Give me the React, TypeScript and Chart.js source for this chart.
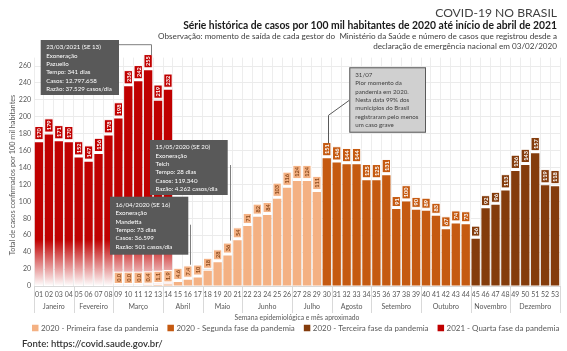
import React, { useEffect, useRef } from 'react';
import { Chart, registerables } from 'chart.js';

Chart.register(...registerables);

const FONT = 'Lato, "Open Sans", sans-serif';

const weekLabels = ['01','02','03','04','05','06','07','08','09','10','11','12','13','14','15','16','17','18','19','20','21','22','23','24','25','26','27','28','29','30','31','32','33','34','35','36','37','38','39','40','41','42','43','44','45','46','47','48','49','50','51','52','53'];
const monthNames = ['Janeiro','Fevereiro','Março','Abril','Maio','Junho','Julho','Agosto','Setembro','Outubro','Novembro','Dezembro'];
const monthStartWeeks = ['01','05','09','14','18','22','27','31','35','40','45','49'];

// 2020 - Primeira fase (SE 09 a 29)
const weeksFase1 = ['09','10','11','12','13','14','15','16','17','18','19','20','21','22','23','24','25','26','27','28','29'];
const casosFase1 = [0.0, 0.0, 0.0, 0.4, 1.1, 1.9, 4.6, 7.4, 10, 18, 28, 36, 54, 71, 82, 84, 103, 116, 124, 124, 111];
// 2020 - Segunda fase (SE 30 a 44)
const weeksFase2 = ['30','31','32','33','34','35','36','37','38','39','40','41','42','43','44'];
const casosFase2 = [151, 146, 144, 144, 125, 125, 131, 91, 100, 90, 89, 83, 67, 74, 73];
// 2020 - Terceira fase (SE 45 a 53)
const weeksFase3 = ['45','46','47','48','49','50','51','52','53'];
const casosFase3 = [56, 92, 96, 113, 136, 143, 157, 119, 118];
// 2021 - Quarta fase (SE 01 a 14)
const weeks2021 = ['01','02','03','04','05','06','07','08','09','10','11','12','13','14'];
const casos2021 = [170, 179, 171, 170, 152, 147, 156, 178, 198, 236, 242, 255, 219, 232];

const seriesNames = ['2020 - Primeira fase da pandemia', '2020 - Segunda fase da pandemia', '2020 - Terceira fase da pandemia', '2021 - Quarta fase da pandemia'];
const seriesColors = ['#F4B183', '#C55A11', '#843C0C', '#C00000'];
const labelTextColors = ['#8A4A1E', '#FFFFFF', '#FFFFFF', '#FFFFFF'];

const annotations = [
  { lines: ['23/03/2021 (SE 13)', 'Exoneração', 'Pazuello', 'Tempo: 341 dias', 'Casos: 12.797.658', 'Razão: 37.529 casos/dia'], box: [40.7, 40, 78.3, 55], dataset: 3, week: '12' },
  { lines: ['15/05/2020 (SE 20)', 'Exoneração', 'Teich', 'Tempo: 28 dias', 'Casos: 119.340', 'Razão: 4.262 casos/dia'], box: [150, 140, 77.7, 55], dataset: 0, week: '20' },
  { lines: ['16/04/2020 (SE 16)', 'Exoneração', 'Mandetta', 'Tempo: 73 dias', 'Casos: 36.599', 'Razão: 501 casos/dia'], box: [110, 196.7, 78.3, 58], dataset: 0, week: '16' },
];
const noteLines = ['31/07', 'Pior momento da', 'pandemia em 2020.', 'Nesta data 99% dos', 'municípios do Brasil', 'registraram pelo menos', 'um caso grave'];

function fitSize(ctx: CanvasRenderingContext2D, text: string, width: number, weight: string) {
  ctx.font = `${weight} 10px ${FONT}`;
  return (10 * width) / ctx.measureText(text).width;
}

function valueOf(di: number, week: string) {
  const weeks = [weeksFase1, weeksFase2, weeksFase3, weeks2021][di];
  const vals = [casosFase1, casosFase2, casosFase3, casos2021][di];
  return vals[weeks.indexOf(week)];
}

const labelPlugin = {
  id: 'barLabels',
  afterDatasetsDraw(chart: any) {
    const { ctx } = chart;
    [3, 0, 1, 2].forEach((di) => {
      const meta = chart.getDatasetMeta(di);
      const ds = chart.data.datasets[di];
      meta.data.forEach((bar: any, i: number) => {
        const v = ds.data[i].y;
        const txt = v < 10 ? v.toFixed(1) : String(Math.round(v));
        ctx.save();
        ctx.font = `bold 5.6px ${FONT}`;
        const tw = ctx.measureText(txt).width;
        const h = tw + 3.5;
        const w = bar.width;
        const bx = bar.x - w / 2;
        const by = bar.y - 2.5 - h;
        ctx.fillStyle = seriesColors[di];
        ctx.fillRect(bx, by, w, h);
        ctx.strokeStyle = '#FFFFFF';
        ctx.lineWidth = 1;
        ctx.strokeRect(bx, by, w, h);
        ctx.translate(bar.x, by + h / 2);
        ctx.rotate(-Math.PI / 2);
        ctx.textAlign = 'center';
        ctx.textBaseline = 'middle';
        ctx.fillStyle = labelTextColors[di];
        ctx.fillText(txt, 0, 0.5);
        ctx.restore();
      });
    });
  },
};

const decorPlugin = {
  id: 'decor',
  afterDraw(chart: any) {
    const { ctx, chartArea } = chart;
    const x = chart.scales.x;
    const y = chart.scales.y;
    ctx.save();

    // Header
    ctx.textAlign = 'right';
    ctx.textBaseline = 'middle';
    let s = fitSize(ctx, 'COVID-19 NO BRASIL', 122, '400');
    ctx.font = `400 ${s}px ${FONT}`;
    ctx.fillStyle = '#404040';
    ctx.fillText('COVID-19 NO BRASIL', 557, 13);
    const t2 = 'Série histórica de casos por 100 mil habitantes de 2020 até início de abril de 2021';
    s = fitSize(ctx, t2, 374, 'bold');
    ctx.font = `bold ${s}px ${FONT}`;
    ctx.fillStyle = '#1a1a1a';
    ctx.fillText(t2, 557, 25.5);
    const o1 = 'Observação: momento de saída de cada gestor do  Ministério da Saúde e número de casos que registrou desde a';
    const o2 = 'declaração de emergência nacional em 03/02/2020';
    s = fitSize(ctx, o1, 400, '400');
    ctx.font = `400 ${s}px ${FONT}`;
    ctx.fillStyle = '#404040';
    ctx.fillText(o1, 557, 36.5);
    ctx.fillText(o2, 557, 46.5);

    // Y title
    const yt = 'Total de casos confirmados por 100 mil habitantes';
    s = fitSize(ctx, yt, 161, '400');
    ctx.save();
    ctx.translate(13, 175);
    ctx.rotate(-Math.PI / 2);
    ctx.textAlign = 'center';
    ctx.font = `400 ${s}px ${FONT}`;
    ctx.fillStyle = '#595959';
    ctx.fillText(yt, 0, 0);
    ctx.restore();

    // Months
    const half = (x.getPixelForValue(1) - x.getPixelForValue(0)) / 2;
    ctx.strokeStyle = '#D9D9D9';
    ctx.lineWidth = 1;
    ctx.font = `400 7px ${FONT}`;
    ctx.fillStyle = '#595959';
    ctx.textAlign = 'center';
    monthStartWeeks.forEach((w, i) => {
      const start = weekLabels.indexOf(w);
      const end = i < monthStartWeeks.length - 1 ? weekLabels.indexOf(monthStartWeeks[i + 1]) - 1 : weekLabels.length - 1;
      const x0 = x.getPixelForValue(start) - half;
      const x1 = x.getPixelForValue(end) + half;
      ctx.beginPath();
      ctx.moveTo(Math.round(x0) + 0.5, chartArea.bottom);
      ctx.lineTo(Math.round(x0) + 0.5, 313);
      if (i === monthStartWeeks.length - 1) {
        ctx.moveTo(Math.round(x1) + 0.5, chartArea.bottom);
        ctx.lineTo(Math.round(x1) + 0.5, 313);
      }
      ctx.stroke();
      ctx.fillText(monthNames[i], (x0 + x1) / 2, 306.5);
    });

    // X title
    const xt = 'Semana epidemiológica e mês aproximado';
    s = fitSize(ctx, xt, 125, '400');
    ctx.font = `400 ${s}px ${FONT}`;
    ctx.fillText(xt, (chartArea.left + chartArea.right) / 2, 318);

    // Legend
    const box = 6.5, gapIn = 2.5, gapItem = 9;
    ctx.font = `400 10px ${FONT}`;
    const widths10 = seriesNames.map((n) => ctx.measureText(n).width);
    const avail = 528 - 4 * (box + gapIn) - 3 * gapItem;
    const ls = (10 * avail) / widths10.reduce((a, b) => a + b, 0);
    ctx.font = `400 ${ls}px ${FONT}`;
    ctx.textAlign = 'left';
    let lx = 32;
    seriesNames.forEach((n, i) => {
      ctx.fillStyle = seriesColors[i];
      ctx.fillRect(lx, 328 - box / 2, box, box);
      lx += box + gapIn;
      ctx.fillStyle = '#595959';
      ctx.fillText(n, lx, 328.5);
      lx += ctx.measureText(n).width + gapItem;
    });

    // Fonte
    const ft = 'Fonte: https://covid.saude.gov.br/';
    s = fitSize(ctx, ft, 141, '600');
    ctx.font = `600 ${s}px ${FONT}`;
    ctx.fillStyle = '#333333';
    ctx.fillText(ft, 22, 343.5);

    // Annotation boxes
    const as = fitSize(ctx, 'Razão: 37.529 casos/dia', 65.7, '400');
    annotations.forEach((a, k) => {
      const [bx, by, bw, bh] = a.box;
      const px = x.getPixelForValue(weekLabels.indexOf(a.week)) + 2.5;
      const py = y.getPixelForValue(valueOf(a.dataset, a.week)) - 15;
      ctx.strokeStyle = '#7F7F7F';
      ctx.lineWidth = 1;
      ctx.beginPath();
      if (k === 0) {
        ctx.moveTo(bx + bw, by + 4.7);
        ctx.lineTo(Math.round(px) + 0.5, by + 4.7);
        ctx.lineTo(Math.round(px) + 0.5, py);
      } else if (k === 1) {
        ctx.moveTo(Math.round(px) + 0.5, by + 25);
        ctx.lineTo(Math.round(px) + 0.5, py);
      } else {
        ctx.moveTo(Math.round(px) + 0.5, by + 28);
        ctx.lineTo(Math.round(px) + 0.5, py);
      }
      ctx.stroke();
      ctx.fillStyle = '#595959';
      ctx.fillRect(bx, by, bw, bh);
      ctx.font = `400 ${as}px ${FONT}`;
      ctx.fillStyle = '#FFFFFF';
      ctx.textAlign = 'left';
      ctx.textBaseline = 'middle';
      const firstY = k === 2 ? by + 8.3 : by + 7.3;
      a.lines.forEach((ln, j) => ctx.fillText(ln, bx + 5.5, firstY + j * 8.33));
    });

    // 31/07 note
    const nx = 349.3, ny = 67.3, nw = 76.7, nh = 65.4;
    const wx = x.getPixelForValue(weekLabels.indexOf('30')) + 1;
    const wy = y.getPixelForValue(valueOf(1, '30')) - 15;
    ctx.strokeStyle = '#595959';
    ctx.beginPath();
    ctx.moveTo(nx, ny + 33);
    ctx.lineTo(Math.round(wx) + 0.5, ny + 48);
    ctx.lineTo(Math.round(wx) + 0.5, wy);
    ctx.stroke();
    ctx.fillStyle = '#D0D0D0';
    ctx.fillRect(nx, ny, nw, nh);
    ctx.strokeStyle = '#595959';
    ctx.strokeRect(nx + 0.5, ny + 0.5, nw - 1, nh - 1);
    ctx.fillStyle = '#404040';
    ctx.font = `400 ${as}px ${FONT}`;
    noteLines.forEach((ln, j) => ctx.fillText(ln, nx + 6, ny + 7.7 + j * 8.33));

    ctx.restore();
  },
};

function makeDataset(di: number, weeks: string[], values: number[]) {
  return {
    label: seriesNames[di],
    data: values.map((v, i) => ({ x: weeks[i], y: v })),
    backgroundColor:
      di === 3
        ? (c: any) => {
            const ch = c.chart;
            if (!ch.chartArea) return seriesColors[3];
            const yy = ch.scales.y;
            const g = ch.ctx.createLinearGradient(0, yy.getPixelForValue(55), 0, yy.getPixelForValue(0));
            g.addColorStop(0, '#C00000');
            g.addColorStop(1, '#FFFFFF');
            return g;
          }
        : seriesColors[di],
    grouped: false,
    barPercentage: 0.84,
    categoryPercentage: 1,
    borderWidth: 0,
  };
}

export default function App() {
  const ref = useRef<HTMLCanvasElement>(null);
  useEffect(() => {
    const chart = new Chart(ref.current as HTMLCanvasElement, {
      type: 'bar',
      data: {
        labels: weekLabels,
        datasets: [
          makeDataset(0, weeksFase1, casosFase1),
          makeDataset(1, weeksFase2, casosFase2),
          makeDataset(2, weeksFase3, casosFase3),
          makeDataset(3, weeks2021, casos2021),
        ] as any,
      },
      options: {
        responsive: false,
        animation: false,
        layout: { padding: { top: 57.6, bottom: 53, left: 0, right: 7 } },
        plugins: { legend: { display: false }, tooltip: { enabled: false }, title: { display: false } },
        scales: {
          x: {
            type: 'category',
            afterFit: (sc: any) => { sc.height = 12; },
            ticks: { autoSkip: false, maxRotation: 0, minRotation: 0, font: { size: 7, family: FONT }, color: '#595959', padding: 5 },
            grid: { color: '#EDEDED', drawTicks: false, offset: true },
            border: { color: '#D9D9D9' },
          },
          y: {
            min: 0,
            max: 270,
            afterFit: (sc: any) => { sc.width = 34; },
            ticks: { stepSize: 10, callback: (v: any) => (v % 20 === 0 ? String(v) : ''), font: { size: 7, family: FONT }, color: '#595959', padding: 3 },
            grid: { color: '#EBEBEB', drawTicks: false },
            border: { display: false },
          },
        },
      },
      plugins: [labelPlugin, decorPlugin],
    } as any);
    return () => chart.destroy();
  }, []);
  return (
    <div style={{ position: 'absolute', left: 0, top: 0, width: 567, height: 351, background: '#FFFFFF' }}>
      <canvas ref={ref} width={567} height={351} style={{ display: 'block' }} />
    </div>
  );
}
